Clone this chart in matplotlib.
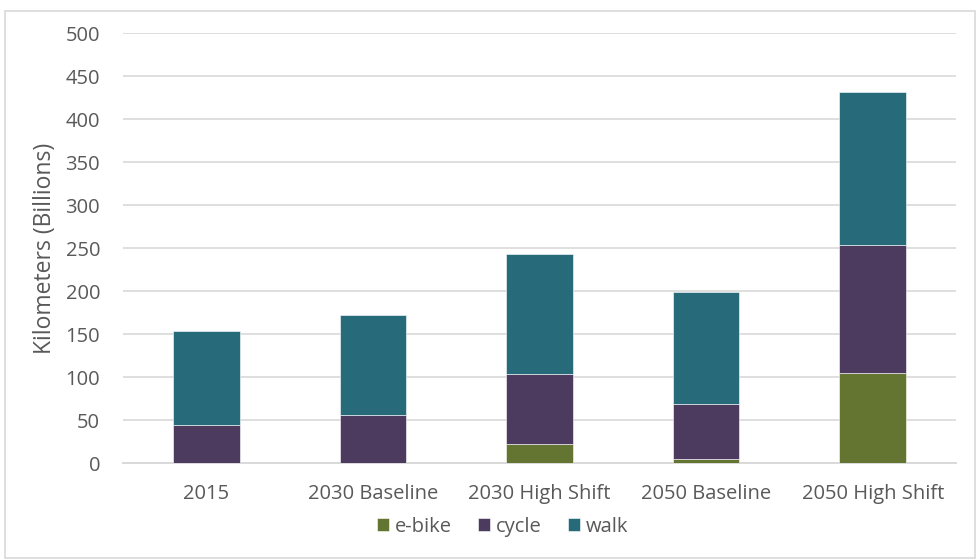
import numpy as np
import matplotlib
matplotlib.use("Agg")
import matplotlib.pyplot as plt
from matplotlib.patches import Rectangle

categories = ["2015", "2030 Baseline", "2030 High Shift", "2050 Baseline", "2050 High Shift"]
ebike = [0, 0, 22.5, 4.7, 104.7]
cycle = [44.9, 55.8, 81.3, 63.9, 148.8]
walk = [108.6, 116.6, 139.2, 130.6, 178.2]

colors = {"e-bike": "#637531", "cycle": "#4d3b5f", "walk": "#276a7a"}
grey = "#595959"

plt.rcParams['font.family'] = ['Open Sans', 'DejaVu Sans']

fig = plt.figure(figsize=(9.8, 5.6), dpi=100)
ax = fig.add_axes([0.1255, 0.1727, 0.85, 0.7678])

x = np.arange(len(categories))
w = 0.4
bottom = np.zeros(len(categories))
for name, vals in [("e-bike", ebike), ("cycle", cycle), ("walk", walk)]:
    ax.bar(x, vals, w, bottom=bottom, color=colors[name], label=name,
           edgecolor="#ffffff", linewidth=0.4, zorder=3)
    bottom += np.array(vals)

ax.set_xlim(-0.5, 4.5)
ax.set_ylim(0, 500)
ax.set_yticks(np.arange(0, 501, 50))
ax.yaxis.grid(True, color="#d9d9d9", linewidth=1.2, zorder=0)
ax.set_axisbelow(True)
for s in ["top", "right", "left"]:
    ax.spines[s].set_visible(False)
ax.spines["bottom"].set_color("#d9d9d9")
ax.spines["bottom"].set_linewidth(1.4)
ax.tick_params(axis="both", length=0, labelsize=14.5, colors=grey)
ax.tick_params(axis="y", pad=16.5)
ax.tick_params(axis="x", pad=15)
ax.set_xticks(x)
ax.set_xticklabels(categories)
ax.set_ylabel("Kilometers (Billions)", fontsize=16.5, color=grey, labelpad=6)

fig.legend(loc="center", bbox_to_anchor=(0.513, 0.059), ncol=3, frameon=False,
           fontsize=14.5, labelcolor=grey, handlelength=0.6, handleheight=0.6,
           handletextpad=0.3, columnspacing=1.3)

fig.patches.append(Rectangle((0.005, 0.003), 0.99, 0.978, transform=fig.transFigure,
                             fill=False, edgecolor="#d9d9d9", linewidth=1.2))

fig.savefig("out.png", dpi=100)
